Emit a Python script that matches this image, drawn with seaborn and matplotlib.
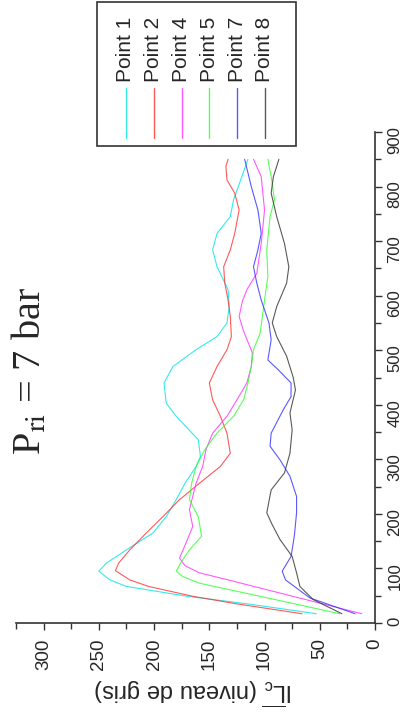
import pandas as pd
import matplotlib
matplotlib.use("Agg")
import matplotlib.pyplot as plt
from matplotlib.lines import Line2D
from matplotlib.patches import Rectangle
from matplotlib.ticker import MultipleLocator
import seaborn as sns

# series names and colours
points = ["Point 1", "Point 2", "Point 4", "Point 5", "Point 7", "Point 8"]
colors = ["#00e6e6", "#ff3030", "#ff30ff", "#30ff30", "#3030ff", "#303030"]

# position (pixel) and grey level
pos_p1 = [17, 35, 49, 67, 79, 95, 110, 134, 165, 195, 226, 256, 287, 305, 336, 379,
          403, 440, 470, 501, 525, 550, 580, 611, 653, 684, 714, 745, 776, 810, 850]
lvl_p1 = [53, 115, 170, 225, 240, 250, 243, 225, 201, 189, 180, 172, 162, 158, 160, 180,
          189, 191, 183, 162, 143, 134, 132, 133, 143, 147, 143, 131, 128, 122, 115]

pos_p2 = [17, 35, 49, 67, 79, 96, 110, 134, 165, 195, 226, 256, 287, 311, 348, 379,
          409, 440, 470, 501, 525, 562, 592, 623, 653, 684, 714, 757, 788, 812, 837, 850]
lvl_p2 = [66, 125, 165, 205, 222, 235, 232, 222, 207, 192, 177, 159, 140, 131, 134, 140,
          147, 150, 143, 134, 130, 131, 133, 136, 137, 131, 127, 123, 127, 134, 135, 133]

pos_p4 = [17, 40, 60, 80, 92, 105, 119, 147, 177, 208, 256, 287, 318, 348, 379, 409,
          440, 470, 495, 535, 562, 590, 611, 641, 696, 757, 818, 850]
lvl_p4 = [12, 57, 96, 135, 159, 172, 177, 171, 165, 168, 162, 156, 153, 147, 134, 125,
          116, 112, 111, 119, 123, 120, 116, 107, 103, 100, 103, 110]

pos_p5 = [17, 45, 73, 85, 95, 110, 134, 159, 195, 226, 256, 287, 318, 348, 379, 409,
          440, 470, 501, 531, 592, 635, 684, 745, 776, 818, 850]
lvl_p5 = [32, 95, 159, 174, 180, 176, 168, 157, 160, 168, 166, 162, 154, 143, 128, 119,
          115, 112, 110, 104, 100, 97, 98, 95, 91, 94, 97]

pos_p7 = [17, 46, 79, 95, 122, 160, 202, 232, 269, 299, 324, 348, 391, 415, 440, 465,
          482, 519, 550, 592, 623, 653, 684, 714, 757, 800, 850]
lvl_p7 = [18, 59, 81, 84, 76, 73, 71, 71, 77, 86, 95, 94, 83, 76, 76, 88,
          97, 94, 96, 103, 107, 110, 106, 103, 106, 112, 118]

pos_p8 = [17, 43, 67, 92, 122, 153, 180, 202, 244, 275, 311, 354, 385, 427, 450, 489,
          525, 550, 580, 623, 653, 696, 745, 788, 818, 850]
lvl_p8 = [30, 56, 68, 71, 75, 86, 93, 98, 94, 82, 77, 75, 77, 72, 74, 80,
          89, 93, 89, 80, 78, 82, 89, 94, 92, 87]

series = [(pos_p1, lvl_p1), (pos_p2, lvl_p2), (pos_p4, lvl_p4),
          (pos_p5, lvl_p5), (pos_p7, lvl_p7), (pos_p8, lvl_p8)]

frames = []
for name, (pos, lvl) in zip(points, series):
    frames.append(pd.DataFrame({"pixel": pos, "niveau": lvl, "point": name}))
df = pd.concat(frames, ignore_index=True)

sns.set_theme(style="ticks")
plt.rcParams["font.family"] = ["Liberation Sans", "DejaVu Sans"]
plt.rcParams["mathtext.fontset"] = "custom"
plt.rcParams["mathtext.rm"] = "Liberation Sans"
plt.rcParams["mathtext.it"] = "Liberation Sans:italic"

W, H = 412, 716
fig = plt.figure(figsize=(W / 100, H / 100), dpi=100)
ax = fig.add_axes([16 / W, 1 - 623 / H, (375 - 16) / W, (623 - 132) / H])

# the chart is drawn turned a quarter turn: grey level runs right-to-left, position bottom-to-top
sns.lineplot(data=df, x="niveau", y="pixel", hue="point", palette=colors,
             orient="y", estimator=None, legend=False, linewidth=0.8, alpha=0.8, ax=ax)

ax.set_xlim(325, 0)
ax.set_ylim(0, 900)
ax.set_xlabel("")
ax.set_ylabel("")
ax.xaxis.set_major_locator(MultipleLocator(50))
ax.xaxis.set_minor_locator(MultipleLocator(25))
ax.yaxis.set_major_locator(MultipleLocator(100))
ax.yaxis.set_minor_locator(MultipleLocator(50))
ax.yaxis.tick_right()

for side in ["top", "left"]:
    ax.spines[side].set_visible(False)
for side in ["right", "bottom"]:
    ax.spines[side].set_linewidth(1.2)
    ax.spines[side].set_color("#333333")

ax.tick_params(which="both", direction="out", color="#333333", width=1.0)
ax.tick_params(which="major", length=5)
ax.tick_params(which="minor", length=4)
ax.tick_params(axis="x", labelrotation=90, labelsize=13.5, pad=6)
ax.tick_params(axis="y", labelrotation=90, labelsize=12, pad=4)

# title and axis label (rotated like the rest)
fig.text(30 / W, 1 - 371 / H, r"P$_{\mathrm{ri}}$ = 7 bar", rotation=90, fontsize=29,
         family="Liberation Serif", math_fontfamily="stix", ha="center", va="center")
fig.text(194 / W, 1 - 692 / H, r"I$\overline{\mathregular{L}_{\mathregular{c}}}$ (niveau de gris)",
         rotation=180, fontsize=17, ha="center", va="center")

# legend box, turned as well
fig.add_artist(Rectangle((97 / W, 1 - 146 / H), (296 - 97) / W, (146 - 2) / H,
                         transform=fig.transFigure, fill=False, lw=1.2, ec="#333333"))
for i, (name, col) in enumerate(zip(points, colors)):
    xc = (126 + i * 27.8) / W
    fig.add_artist(Line2D([xc, xc], [1 - 138 / H, 1 - 88 / H], color=col, lw=1.0,
                          alpha=0.8, transform=fig.transFigure))
    fig.text(xc, 1 - 82 / H, name, rotation=90, fontsize=15, ha="center", va="bottom")

fig.savefig("out.png", dpi=100)
